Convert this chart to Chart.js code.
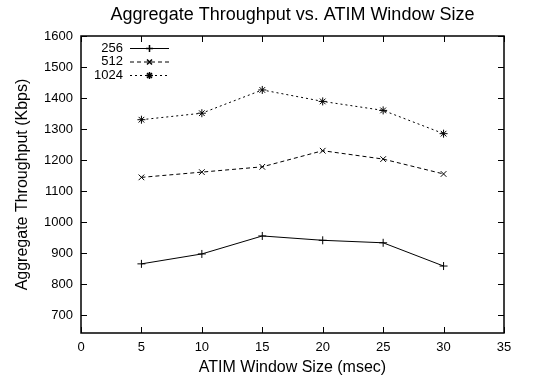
<!DOCTYPE html>
<html>
<head>
<meta charset="utf-8">
<script src="https://cdn.jsdelivr.net/npm/chart.js@4.4.1/dist/chart.umd.min.js"></script>
<style>
  html, body { margin: 0; padding: 0; background: #fff; }
  #wrap { width: 544px; height: 377px; }
</style>
</head>
<body>
<div id="wrap"><canvas id="throughputChart"></canvas></div>
<script>
// ATIM window sizes (msec) and throughput per packet size (Kbps)
const windowSizes = [5, 10, 15, 20, 25, 30];
const series256 = [865, 897, 955, 941, 933, 858];
const series512 = [1144, 1161, 1178, 1230, 1203, 1155];
const series1024 = [1330, 1351, 1426, 1389, 1360, 1285];
const seriesNames = ['256', '512', '1024'];
const xTicks = [0, 5, 10, 15, 20, 25, 30, 35];
const yTicks = [700, 800, 900, 1000, 1100, 1200, 1300, 1400, 1500, 1600];
const chartTitle = 'Aggregate Throughput vs. ATIM Window Size';

const FONT = 'Liberation Sans, Arial, Helvetica, sans-serif';

function toPoints(values) {
  return values.map((v, i) => ({ x: windowSizes[i], y: v }));
}

// gnuplot-like frame, inward ticks on all sides, title and key
const gnuplotFrame = {
  id: 'gnuplotFrame',
  afterDraw(chart) {
    const { ctx, chartArea: a, scales } = chart;
    const len = 6;
    ctx.save();
    ctx.strokeStyle = '#000';
    ctx.lineWidth = 1;
    ctx.beginPath();
    yTicks.forEach(v => {
      const y = Math.round(scales.y.getPixelForValue(v)) + 0.5;
      ctx.moveTo(a.left, y); ctx.lineTo(a.left + len, y);
      ctx.moveTo(a.right, y); ctx.lineTo(a.right - len, y);
    });
    xTicks.forEach(v => {
      const x = Math.round(scales.x.getPixelForValue(v)) + 0.5;
      ctx.moveTo(x, a.bottom); ctx.lineTo(x, a.bottom - len);
      ctx.moveTo(x, a.top); ctx.lineTo(x, a.top + len);
    });
    ctx.stroke();
    ctx.lineWidth = 1.5;
    ctx.strokeRect(a.left, a.top, a.right - a.left, a.bottom - a.top);

    // title, centred over the plot area
    ctx.fillStyle = '#000';
    ctx.font = '18px ' + FONT;
    ctx.textAlign = 'center';
    ctx.textBaseline = 'middle';
    ctx.fillText(chartTitle, (a.left + a.right) / 2, 15);

    // key
    ctx.font = '13px ' + FONT;
    ctx.textAlign = 'right';
    chart.data.datasets.forEach((ds, i) => {
      const y = a.top + 12 + i * 13.5;
      ctx.fillText(ds.label, a.left + 42, y);
      ctx.save();
      ctx.lineWidth = 1;
      ctx.setLineDash(ds.borderDash || []);
      ctx.beginPath();
      ctx.moveTo(a.left + 49, y + 0.5);
      ctx.lineTo(a.left + 88, y + 0.5);
      ctx.stroke();
      ctx.restore();
      Chart.helpers.drawPoint(ctx, {
        pointStyle: ds.pointStyle, radius: 3.5, borderWidth: 1
      }, a.left + 68.5, y + 0.5);
    });
    ctx.restore();
  }
};

const ctx = document.getElementById('throughputChart').getContext('2d');
new Chart(ctx, {
  type: 'line',
  data: {
    datasets: [
      { label: seriesNames[0], data: toPoints(series256), pointStyle: 'cross', borderDash: [] },
      { label: seriesNames[1], data: toPoints(series512), pointStyle: 'crossRot', borderDash: [4, 3] },
      { label: seriesNames[2], data: toPoints(series1024), pointStyle: 'star', borderDash: [2, 3] }
    ].map(ds => Object.assign(ds, {
      borderColor: '#000',
      backgroundColor: '#000',
      borderWidth: 1,
      pointRadius: 4,
      pointBorderWidth: 1,
      pointBorderColor: '#000',
      tension: 0
    }))
  },
  options: {
    responsive: true,
    maintainAspectRatio: false,
    animation: false,
    events: [],
    layout: { padding: { left: 0, right: 40, top: 36, bottom: 0 } },
    plugins: {
      legend: { display: false },
      tooltip: { enabled: false },
      title: { display: false }
    },
    scales: {
      x: {
        type: 'linear',
        min: 0,
        max: 35,
        afterFit: s => { s.height = 44; },
        afterBuildTicks: s => { s.ticks = xTicks.map(v => ({ value: v })); },
        grid: { display: false, drawTicks: false },
        border: { display: false },
        ticks: { color: '#000', padding: 7, font: { family: FONT, size: 13 }, callback: v => String(v) },
        title: {
          display: true,
          text: 'ATIM Window Size (msec)',
          color: '#000',
          font: { family: FONT, size: 16 },
          padding: { top: 2, bottom: 0 }
        }
      },
      y: {
        type: 'linear',
        min: 642,
        max: 1600,
        afterFit: s => { s.width = 81; },
        afterBuildTicks: s => { s.ticks = yTicks.map(v => ({ value: v })); },
        grid: { display: false, drawTicks: false },
        border: { display: false },
        ticks: { color: '#000', padding: 8, font: { family: FONT, size: 13 }, callback: v => String(v) },
        title: {
          display: true,
          text: 'Aggregate Throughput (Kbps)',
          color: '#000',
          font: { family: FONT, size: 16 },
          padding: { top: 13, bottom: 0 }
        }
      }
    }
  },
  plugins: [gnuplotFrame]
});
</script>
</body>
</html>
